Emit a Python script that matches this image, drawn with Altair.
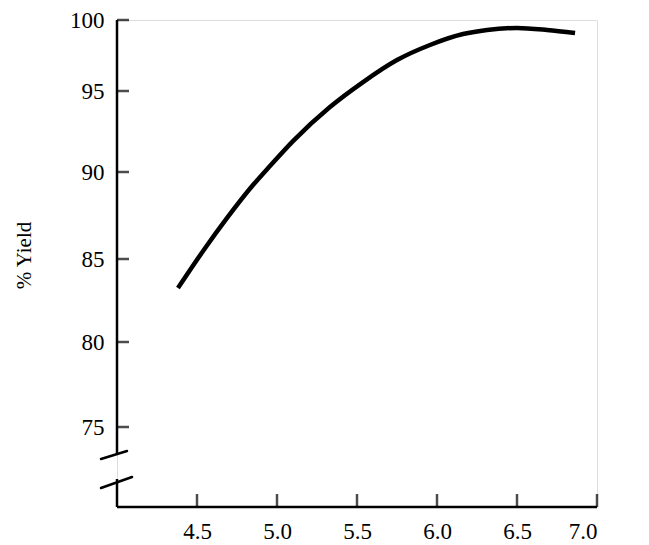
import altair as alt
import pandas as pd

# ---- data ----
curve_x = [4.381, 4.538, 4.688, 4.850, 4.956, 5.100, 5.331, 5.538, 5.750, 5.956, 6.163, 6.313, 6.500, 6.688, 6.863]
curve_y = [83.25, 85.46, 87.36, 89.25, 90.37, 91.91, 94.01, 95.63, 97.18, 98.24, 99.01, 99.30, 99.44, 99.30, 99.08]

x_ticks = [4.5, 5.0, 5.5, 6.0, 6.5, 7.0]
y_ticks = [75, 80, 85, 90, 95, 100]

x_min, x_max = 4.0, 7.0
y_min, y_max = 70.0, 100.0

# y axis drawn in two pieces around the break: (from, to)
seg_from = [100.0, 71.75]
seg_to = [73.25, 70.0]
# break marks (slanted strokes)
brk_x = [3.90, 3.90]
brk_x2 = [4.0625, 4.094]
brk_y = [73.0, 71.19]
brk_y2 = [73.5, 71.875]

W, H = 480, 487
SERIF = "Liberation Serif"

# the hand-drawn y axis has unequal spacing: piecewise scale
y_scale = alt.Scale(domain=[70, 75, 80, 85, 90, 95, 100],
                    range=[487, 407, 322, 239, 152, 71, 0], nice=False, zero=False)
x_scale = alt.Scale(domain=[x_min, x_max], nice=False, zero=False)

x_axis = alt.Axis(values=x_ticks, format=".1f", domain=False, ticks=False, grid=False,
                  labelFont=SERIF, labelFontSize=23, labelColor="black", labelPadding=13,
                  title=None)
y_axis = alt.Axis(values=y_ticks, domain=False, ticks=False, grid=False,
                  labelFont=SERIF, labelFontSize=23, labelColor="black", labelPadding=13,
                  title="% Yield", titleFont=SERIF, titleFontSize=21, titleFontWeight="normal",
                  titleColor="black", titleAngle=270, titleBaseline="middle",
                  titleX=-93, titleY=235)

def X(f):
    return alt.X(f, type="quantitative", scale=x_scale, axis=x_axis)

def Y(f):
    return alt.Y(f, type="quantitative", scale=y_scale, axis=y_axis)

curve_df = pd.DataFrame({"x": curve_x, "y": curve_y})
curve = alt.Chart(curve_df).mark_line(color="black", strokeWidth=4.5, interpolate="monotone",
                                      strokeCap="butt").encode(x=X("x"), y=Y("y"))

yaxis_df = pd.DataFrame({"x": [x_min, x_min], "y": seg_from, "y2": seg_to})
yaxis = alt.Chart(yaxis_df).mark_rule(color="black", strokeWidth=2.5).encode(
    x=X("x"), y=Y("y"), y2="y2")

xaxis_df = pd.DataFrame({"x": [x_min], "x2": [x_max], "y": [y_min]})
xaxis = alt.Chart(xaxis_df).mark_rule(color="black", strokeWidth=2.5).encode(
    x=X("x"), x2="x2", y=Y("y"))

brk_df = pd.DataFrame({"x": brk_x, "x2": brk_x2, "y": brk_y, "y2": brk_y2})
brk = alt.Chart(brk_df).mark_rule(color="black", strokeWidth=2.5, strokeCap="round").encode(
    x=X("x"), x2="x2", y=Y("y"), y2="y2")

yt_df = pd.DataFrame({"x": [x_min] * len(y_ticks), "y": y_ticks})
yt = alt.Chart(yt_df).mark_tick(color="black", orient="horizontal", size=12, thickness=2.5,
                                xOffset=6).encode(x=X("x"), y=Y("y"))

xt_df = pd.DataFrame({"x": x_ticks, "y": [y_min] * len(x_ticks)})
xt = alt.Chart(xt_df).mark_tick(color="black", orient="vertical", size=13, thickness=2.5,
                                yOffset=-6.5).encode(x=X("x"), y=Y("y"))

chart = alt.layer(curve, yaxis, xaxis, brk, yt, xt).properties(
    width=W, height=H,
    autosize=alt.AutoSizeParams(type="none"),
    padding={"left": 109, "top": 12, "right": 40, "bottom": 36},
).configure_view(stroke=None).configure(background="white")

chart.save("out.html", embed_options={"renderer": "svg", "actions": False})
